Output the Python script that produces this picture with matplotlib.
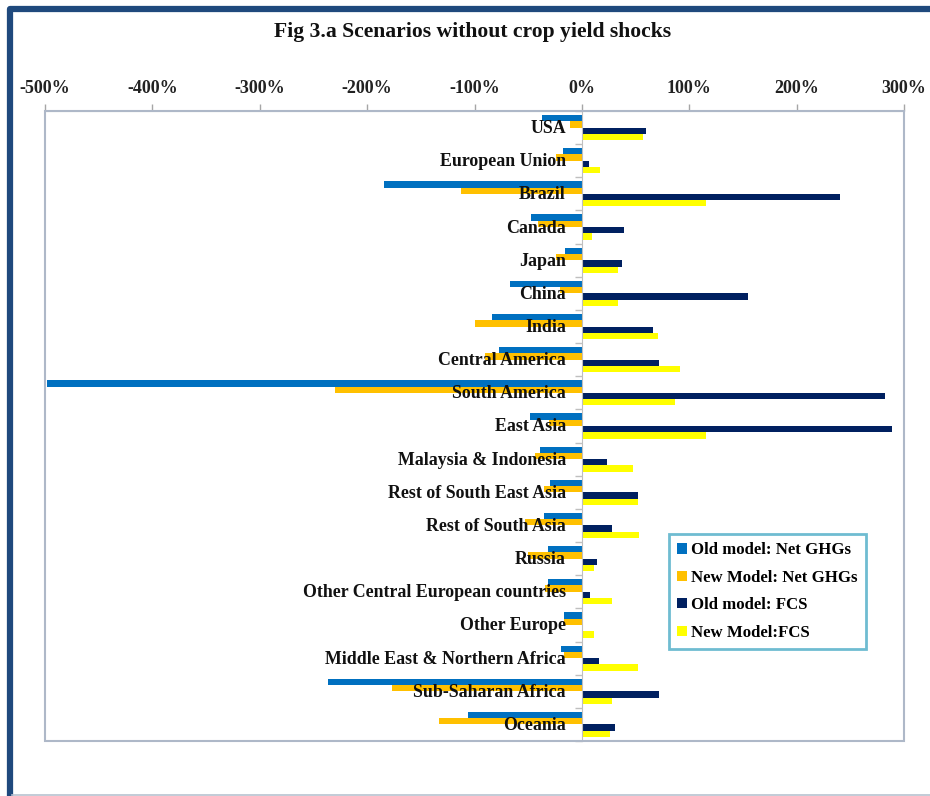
import matplotlib
matplotlib.use("Agg")
import matplotlib.pyplot as plt
import numpy as np
from matplotlib.patches import Rectangle
from matplotlib.lines import Line2D
from matplotlib.ticker import FuncFormatter

regions = [
    "USA", "European Union", "Brazil", "Canada", "Japan", "China", "India",
    "Central America", "South America", "East Asia", "Malaysia & Indonesia",
    "Rest of South East Asia", "Rest of South Asia", "Russia",
    "Other Central European countries", "Other Europe",
    "Middle East & Northern Africa", "Sub-Saharan Africa", "Oceania",
]

# percent change by region
old_ghg = [-37, -18, -184, -47, -16, -67, -84, -77, -498, -48, -39, -30, -35, -32, -32, -17, -19, -236, -106]
new_ghg = [-11, -24, -113, -41, -24, -20, -100, -90, -230, -31, -44, -35, -53, -50, -34, -17, -17, -177, -133]
old_fcs = [60, 6.5, 240, 39, 37, 155, 66, 72, 282, 289, 23, 52, 28.5, 14.5, 8, 0.5, 16, 72, 31]
new_fcs = [57, 16.5, 116, 9, 33.5, 33.5, 71, 91, 87, 116, 48, 52, 53, 11, 28.5, 11, 52, 28.5, 26]

series = [
    ("Old model: Net GHGs", old_ghg, "#0070C0"),
    ("New Model: Net GHGs", new_ghg, "#FFC000"),
    ("Old model: FCS", old_fcs, "#002060"),
    ("New Model:FCS", new_fcs, "#FFFF00"),
]

x_ticks = [-500, -400, -300, -200, -100, 0, 100, 200, 300]

W, H = 930, 796
fig = plt.figure(figsize=(W / 100, H / 100), dpi=100)
fig.patch.set_facecolor("white")

ax = fig.add_axes([45 / W, 1 - 741 / H, (904 - 45) / W, (741 - 111) / H])

serif = ["Liberation Serif", "DejaVu Serif"]
y = np.arange(len(regions))
h = 0.19
for k, (name, vals, col) in enumerate(series):
    ax.barh(y + (k - 1.5) * h, vals, height=h, color=col, label=name, zorder=3)

ax.set_xlim(x_ticks[0], x_ticks[-1])
ax.set_ylim(len(regions) - 0.5, -0.5)

# value axis across the top
ax.xaxis.tick_top()
ax.set_xticks(x_ticks)
ax.xaxis.set_major_formatter(FuncFormatter(lambda v, p: f"{int(v)}%"))
ax.tick_params(axis="x", direction="out", length=5, width=1, color="#A6A6A6",
               pad=5, labelsize=13)
for t in ax.get_xticklabels():
    t.set_fontfamily(serif)
    t.set_fontweight("bold")
    t.set_color("#222222")

# category axis sits on the zero line
ax.spines["left"].set_position(("data", 0))
ax.spines["left"].set_color("#BFBFBF")
ax.spines["left"].set_zorder(4)
for s in ("right", "bottom"):
    ax.spines[s].set_visible(False)
ax.spines["top"].set_color("#BFBFBF")
ax.set_yticks(np.arange(len(regions) + 1) - 0.5)
ax.set_yticklabels([])
ax.tick_params(axis="y", direction="out", length=5, width=1, color="#BFBFBF")

# plot area frame
ax.add_patch(Rectangle((0, 0), 1, 1, transform=ax.transAxes, fill=False,
                       edgecolor="#AEB8C8", linewidth=1.5, zorder=5, clip_on=False))

for i, name in enumerate(regions):
    ax.annotate(name, xy=(0, i), xytext=(-11.5, -0.7), textcoords="offset points",
                ha="right", va="center", fontsize=12.9, fontweight="bold",
                family=serif, color="#111111", zorder=6)

leg = ax.legend(loc="upper left", bbox_to_anchor=((669 - 45) / (904 - 45), 1 - (534 - 111) / (741 - 111)),
                borderaxespad=0, frameon=True, fancybox=False,
                handlelength=0.55, handleheight=0.55, handletextpad=0.25,
                labelspacing=0.68, borderpad=0.5,
                prop={"family": serif, "weight": "bold", "size": 12.1})
leg.get_frame().set_edgecolor("#4BACC6")
leg.get_frame().set_linewidth(2)
leg.set_zorder(7)

fig.text(0.5 * (273 + 672) / W, 1 - 32 / H, "Fig 3.a Scenarios without crop yield shocks",
         ha="center", va="center", fontsize=15.6, fontweight="bold", family=serif,
         color="#111111")

# outer chart border: heavy navy on left and top, thin grey along the bottom
navy = "#1F497D"
fig.add_artist(Line2D([10 / W, 10 / W, 1], [0, 1 - 8.5 / H, 1 - 8.5 / H],
                      transform=fig.transFigure, color=navy, linewidth=4.5,
                      solid_joinstyle="round", solid_capstyle="butt"))
fig.add_artist(Line2D([12 / W, 1], [1.5 / H, 1.5 / H], transform=fig.transFigure,
                      color="#B8C2D0", linewidth=1.2))

fig.savefig("out.png", dpi=100)
